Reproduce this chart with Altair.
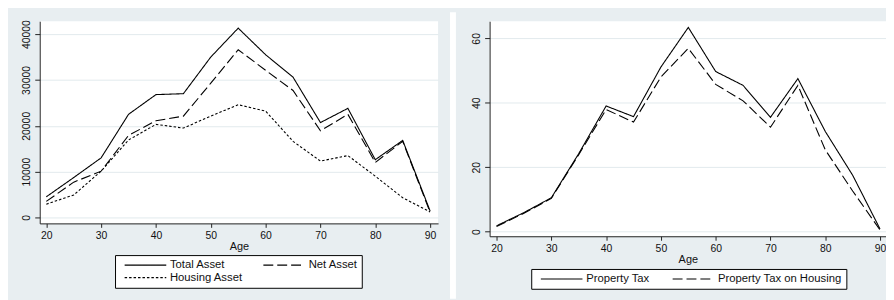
import altair as alt
import pandas as pd

# ---------------- data ----------------
ages = [20, 25, 30, 35, 40, 45, 50, 55, 60, 65, 70, 75, 80, 85, 90]

total_asset = [4500, 8700, 13000, 22500, 26800, 27000, 35000, 41300, 35500, 30600, 20700, 23800, 12600, 16800, 1400]
net_asset = [3500, 7700, 10100, 17900, 21100, 22100, 29300, 36600, 32100, 27700, 18900, 22500, 12000, 16600, 1100]
housing_asset = [2900, 4900, 10100, 16900, 20300, 19500, 22100, 24600, 23200, 16600, 12300, 13500, 9000, 4300, 1200]

property_tax = [1.8, 5.9, 10.5, 24.2, 39.0, 35.7, 51.1, 63.4, 49.7, 45.4, 35.5, 47.5, 31.1, 17.5, 0.8]
property_tax_housing = [1.6, 5.7, 10.3, 23.9, 37.9, 34.0, 48.0, 56.9, 45.7, 40.6, 32.4, 45.4, 25.4, 12.6, 0.5]

left_series = ["Total Asset", "Net Asset", "Housing Asset"]
right_series = ["Property Tax", "Property Tax on Housing"]

left_yticks = [0, 10000, 20000, 30000, 40000]
right_yticks = [0, 20, 40, 60]
xticks = [20, 30, 40, 50, 60, 70, 80, 90]

# ---------------- tables ----------------
left_df = pd.DataFrame(
    [{"Age": a, "value": v, "series": s}
     for s, vals in zip(left_series, [total_asset, net_asset, housing_asset])
     for a, v in zip(ages, vals)]
)
right_df = pd.DataFrame(
    [{"Age": a, "value": v, "series": s}
     for s, vals in zip(right_series, [property_tax, property_tax_housing])
     for a, v in zip(ages, vals)]
)

FONT = "Liberation Sans"
BG = "#e8eef1"
GRID = "#e2eaed"
SYMBOL = "M0,0H42"


def x_enc(domain):
    return alt.X(
        "Age:Q",
        scale=alt.Scale(domain=domain, nice=False, zero=False),
        axis=alt.Axis(values=xticks, title="Age", grid=False, tickSize=4,
                      labelPadding=3, titlePadding=0, labelFontSize=10.5,
                      titleFontSize=11, titleFontWeight="normal"),
    )


def y_enc(domain, ticks):
    return alt.Y(
        "value:Q",
        scale=alt.Scale(domain=domain, nice=False, zero=False),
        axis=alt.Axis(values=ticks, title=None, grid=True, gridColor=GRID,
                      tickSize=5, labelPadding=3, labelAngle=270,
                      labelFontSize=10.5, format="d"),
    )


left_lines = alt.Chart(left_df).mark_line(color="black", strokeWidth=1.1).encode(
    x=x_enc([18.8, 91.45]),
    y=y_enc([-1297, 42811], left_yticks),
    strokeDash=alt.StrokeDash(
        "series:N",
        scale=alt.Scale(domain=left_series, range=[[1, 0], [10, 4], [2.5, 2]]),
        sort=left_series,
        legend=alt.Legend(title=None, orient="none", legendX=76, legendY=236,
                          direction="horizontal", columns=2, columnPadding=15,
                          rowPadding=0, padding=4, strokeColor="black",
                          fillColor="white", symbolType=SYMBOL, symbolSize=4,
                          symbolStrokeColor="black", symbolStrokeWidth=1.1,
                          labelOffset=40, labelFontSize=11.4, labelLimit=300),
    ),
)

gap_rule = alt.Chart(pd.DataFrame({"k": [0]})).mark_rule(
    color="white", strokeWidth=6
).encode(x=alt.value(417), y=alt.value(-9), y2=alt.value(280))

left = alt.layer(left_lines, gap_rule).properties(width=402, height=204)

right_lines = alt.Chart(right_df).mark_line(color="black", strokeWidth=1.1).encode(
    x=x_enc([18.734, 91.085]),
    y=y_enc([-1.446, 65.32], right_yticks),
    strokeDash=alt.StrokeDash(
        "series:N",
        scale=alt.Scale(domain=right_series, range=[[1, 0], [10, 4]]),
        sort=right_series,
        legend=alt.Legend(title=None, orient="none", legendX=42, legendY=250,
                          direction="horizontal", columns=2, columnPadding=17,
                          padding=4, strokeColor="black",
                          fillColor="white", symbolType=SYMBOL, symbolSize=4,
                          symbolStrokeColor="black", symbolStrokeWidth=1.1,
                          labelOffset=40, labelFontSize=11.4, labelLimit=300),
    ),
)

right = right_lines.properties(width=400, height=217)

chart = alt.hconcat(left, right, spacing=52, bounds="flush").resolve_scale(
    strokeDash="independent", x="independent", y="independent"
).properties(
    background=BG,
    padding={"left": 13, "top": 0, "right": 0, "bottom": 0},
).configure_view(
    fill="white", stroke=None
).configure_axis(
    labelFont=FONT, titleFont=FONT, labelColor="#111", titleColor="#111",
    domainColor="#222", tickColor="#222", domainWidth=1, tickWidth=1,
).configure_legend(
    labelFont=FONT, labelColor="#111"
)

chart.save("out.html", embed_options={"renderer": "svg", "actions": False})
